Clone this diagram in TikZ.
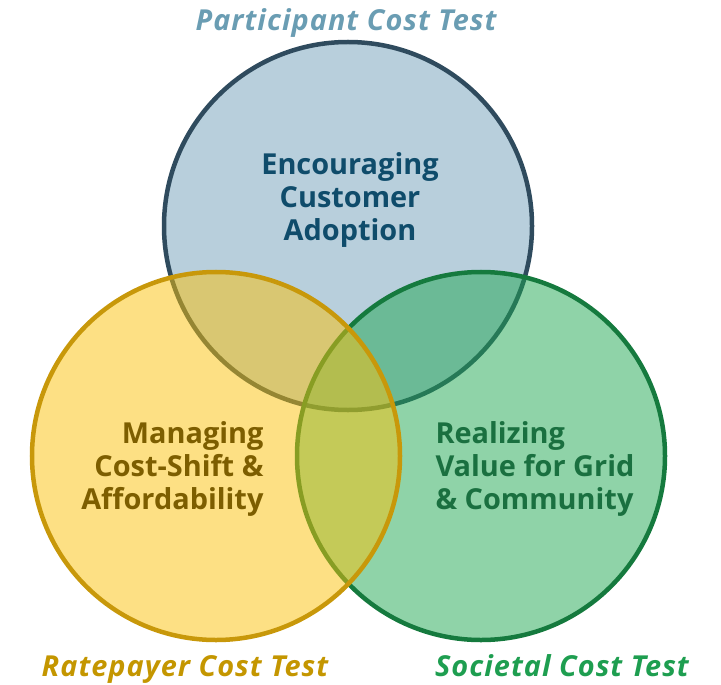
\documentclass[tikz,border=0pt]{standalone}
\usepackage{fontspec}
\setmainfont{Open Sans}
\usetikzlibrary{positioning}
\definecolor{ptcfill}{HTML}{B8CFDC}
\definecolor{ptcline}{HTML}{2F4B5E}
\definecolor{ptctext}{HTML}{0F4C6B}
\definecolor{ptclabel}{HTML}{6A9DB3}
\definecolor{rctfill}{HTML}{FBC109}
\definecolor{rctline}{HTML}{C8980A}
\definecolor{rcttext}{HTML}{7D5E00}
\definecolor{rctlabel}{HTML}{C49600}
\definecolor{sctfill}{HTML}{1FA751}
\definecolor{sctline}{HTML}{157A3E}
\definecolor{scttext}{HTML}{1A7040}
\definecolor{sctlabel}{HTML}{1E9E50}
\begin{document}
\begin{tikzpicture}[
    x=1bp, y=-1bp,
    venn/.style={circle, minimum size=368bp, inner sep=0pt, line width=4.5bp},
    inside/.style={font=\bfseries\fontsize{29}{33}\selectfont},
    testlabel/.style={inner sep=1bp, text depth=0pt, font=\bfseries\itshape\fontsize{29}{32}\selectfont\addfontfeature{LetterSpace=3.5}},
  ]
  \useasboundingbox (0,0) rectangle (721,685);
  % the three tests
  \node[venn, draw=ptcline, fill=ptcfill] (ptc) at (348,226) {};
  \node[venn, draw=sctline, fill=sctfill, fill opacity=0.5] (sct) at (481,456) {};
  \node[venn, draw=rctline, fill=rctfill, fill opacity=0.5] (rct) at (216,456) {};
  % what each one is about
  \node[inside, text=ptctext, align=center] (adopt) at (350,200) {Encouraging\\Customer\\Adoption};
  \node[inside, text=rcttext, align=right, anchor=east] (afford) at (267,469) {Managing\\Cost-Shift \&\\Affordability};
  \node[inside, text=scttext, align=left, anchor=west] (value) at (432,469) {Realizing\\Value for Grid\\\& Community};
  % names
  \node[testlabel, text=ptclabel] (ptclbl) at (346,20) {Participant Cost Test};
  \node[testlabel, text=rctlabel] (rctlbl) at (185,666) {Ratepayer Cost Test};
  \node[testlabel, text=sctlabel] (sctlbl) at (562,666) {Societal Cost Test};
\end{tikzpicture}
\end{document}
